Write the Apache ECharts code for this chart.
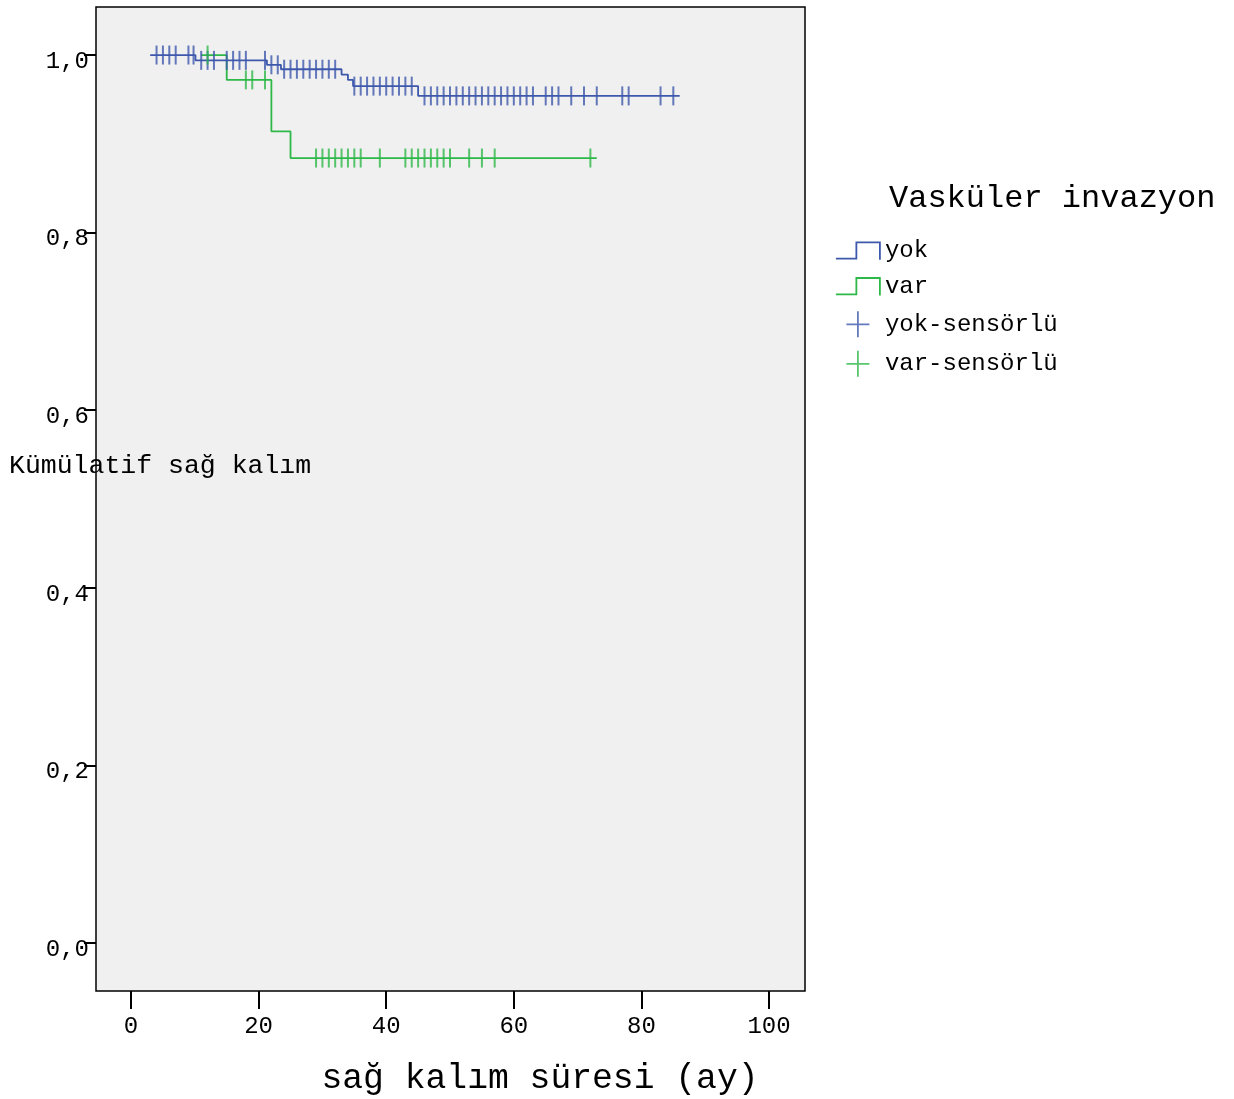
<!DOCTYPE html>
<html>
<head>
<meta charset="utf-8">
<script src="https://cdn.jsdelivr.net/npm/echarts@6/dist/echarts.min.js"></script>
<style>
  html, body { margin: 0; padding: 0; background: #fff; }
  #chart { width: 1234px; height: 1099px; }
</style>
</head>
<body>
<div id="chart"></div>
<script>
// Kaplan-Meier eğrileri, değerler
const yokEventTimes = [3, 10.1, 21.3, 23.5, 33, 34, 34.8, 45, 86];
const yokSurvival = [1.0, 0.994, 0.989, 0.984, 0.978, 0.972, 0.965, 0.954, 0.954];
const yokCensored = [4, 5, 6, 7, 9, 9.8, 11, 12, 13, 15, 16, 17, 18, 21, 22, 23,
  24, 25, 26, 27, 28, 29, 30, 31, 32, 35, 36, 37, 38, 39, 40, 41, 42, 43, 44,
  46, 47, 48, 49, 50, 51, 52, 53, 54, 55, 56, 57, 58, 59, 60, 61, 62, 63,
  65, 66, 67, 69, 71, 73, 77, 78, 83, 85];

const varEventTimes = [11, 15, 22, 25, 73];
const varSurvival = [1.0, 0.972, 0.914, 0.884, 0.884];
const varCensored = [12, 18, 19, 21, 29, 30, 31, 32, 33, 34, 35, 36, 39,
  43, 44, 45, 46, 47, 48, 49, 50, 53, 55, 57, 72];

const xTicks = [0, 20, 40, 60, 80, 100];
const yTicks = [0, 0.2, 0.4, 0.6, 0.8, 1.0];

const BLUE = '#3e58ac';
const GREEN = '#2eb848';
const FONT = '"Liberation Mono", "DejaVu Sans Mono", monospace';

// basamak fonksiyonundan sansürlü noktanın yüksekliği
function survivalAt(times, surv, t) {
  let s = surv[0];
  for (let i = 0; i < times.length; i++) {
    if (times[i] <= t) s = surv[i];
  }
  return s;
}

const yokLine = yokEventTimes.map((t, i) => [t, yokSurvival[i]]);
const varLine = varEventTimes.map((t, i) => [t, varSurvival[i]]);
const yokMarks = yokCensored.map(t => [t, survivalAt(yokEventTimes, yokSurvival, t)]);
const varMarks = varCensored.map(t => [t, survivalAt(varEventTimes, varSurvival, t)]);

const chart = echarts.init(document.getElementById('chart'));

const stepIcon = 'path://M0,16 L20,16 L20,0 L43,0 L43,17';
const plusIcon = 'path://M0,13 L23,13 M11.5,0 L11.5,26';

chart.setOption({
  animation: false,
  backgroundColor: '#fff',
  grid: {
    left: 96, top: 7, width: 709, height: 984,
    show: true, backgroundColor: '#f0f0f0', borderColor: '#000', borderWidth: 1.5
  },
  xAxis: {
    type: 'value',
    min: -5.49, max: 105.64,
    axisLine: { show: false, onZero: false },
    splitLine: { show: false },
    axisTick: { show: true, customValues: xTicks, length: 18, lineStyle: { color: '#000', width: 2 } },
    axisLabel: {
      customValues: xTicks, margin: 24,
      fontFamily: FONT, fontSize: 24, color: '#000'
    }
  },
  yAxis: {
    type: 'value',
    min: -0.0541, max: 1.0541,
    axisLine: { show: false, onZero: false },
    splitLine: { show: false },
    axisTick: { show: true, customValues: yTicks, length: 12, lineStyle: { color: '#000', width: 2 } },
    axisLabel: {
      customValues: yTicks, margin: 7,
      fontFamily: FONT, fontSize: 24, color: '#000',
      verticalAlign: 'top', lineHeight: 13,
      formatter: v => v.toFixed(1).replace('.', ',')
    }
  },
  legend: {
    orient: 'vertical',
    left: 835, top: 239, padding: 0,
    itemWidth: 44, itemHeight: 26, itemGap: 11.7,
    selectedMode: false,
    textStyle: { fontFamily: FONT, fontSize: 24, color: '#000' },
    data: [
      { name: 'yok', icon: stepIcon, itemStyle: { color: 'rgba(0,0,0,0)', borderColor: BLUE, borderWidth: 1.8 } },
      { name: 'var', icon: stepIcon, itemStyle: { color: 'rgba(0,0,0,0)', borderColor: GREEN, borderWidth: 1.8 } },
      { name: 'yok-sensörlü', icon: plusIcon, itemStyle: { color: 'rgba(0,0,0,0)', borderColor: BLUE, borderWidth: 1.8 } },
      { name: 'var-sensörlü', icon: plusIcon, itemStyle: { color: 'rgba(0,0,0,0)', borderColor: GREEN, borderWidth: 1.8 } }
    ]
  },
  graphic: [
    {
      type: 'text', left: 889, top: 183,
      style: { text: 'Vasküler invazyon', font: '32px ' + FONT, fill: '#000' }
    },
    {
      type: 'text', z: 100,
      style: { text: 'Kümülatif sağ kalım', x: 9, y: 466, verticalAlign: 'middle', font: '26.5px ' + FONT, fill: '#000' }
    },
    {
      type: 'text',
      style: { text: 'sağ kalım süresi (ay)', x: 540, y: 1079, align: 'center', verticalAlign: 'middle', font: '34.7px ' + FONT, fill: '#000' }
    }
  ],
  series: [
    {
      name: 'yok', type: 'line', step: 'end', data: yokLine,
      symbol: 'none', color: BLUE, lineStyle: { color: BLUE, width: 1.8 }, z: 2
    },
    {
      name: 'var', type: 'line', step: 'end', data: varLine,
      symbol: 'none', color: GREEN, lineStyle: { color: GREEN, width: 1.8 }, z: 1
    },
    {
      name: 'yok-sensörlü', type: 'scatter', data: yokMarks,
      symbol: 'rect', symbolSize: [2, 19], color: BLUE, itemStyle: { color: BLUE }, z: 3
    },
    {
      name: 'var-sensörlü', type: 'scatter', data: varMarks,
      symbol: 'rect', symbolSize: [2, 19], color: GREEN, itemStyle: { color: GREEN }, z: 4
    }
  ]
});
</script>
</body>
</html>
